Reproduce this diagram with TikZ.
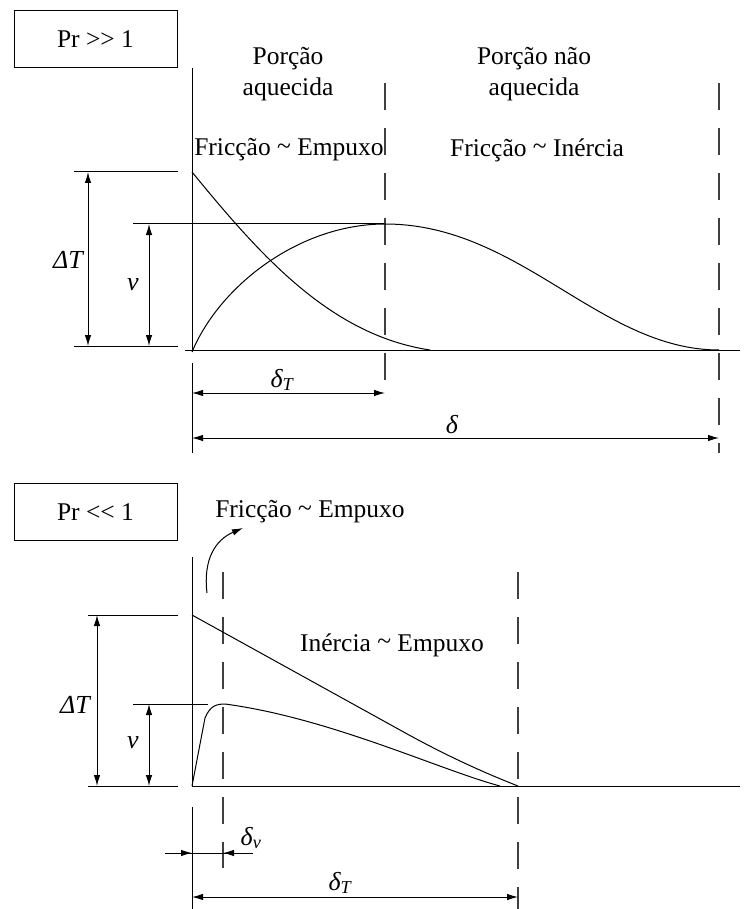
\documentclass[tikz,border=0pt]{standalone}
\usepackage{fontspec}
\setmainfont{Liberation Serif}
\usetikzlibrary{arrows.meta,positioning}
\tikzset{
  prbox/.style={draw,line width=1pt,minimum width=163pt,minimum height=57pt},
  lbl/.style={font=\fontsize{25.5}{31}\selectfont,align=center,inner sep=0pt},
  sym/.style={font=\fontsize{26}{30}\selectfont\itshape,inner sep=0pt},
  tip/.style={-{Latex[length=11pt,width=6.5pt]}},
  dimline/.style={{Latex[length=11pt,width=6.5pt]}-{Latex[length=11pt,width=6.5pt]}},
  dashline/.style={dash pattern=on 27pt off 18pt,line width=1.1pt,draw=black!75}
}
\newcommand{\tl}{\raisebox{0.1ex}{\textasciitilde}}

\begin{document}
\begin{tikzpicture}[x=1pt,y=-1pt,line width=1pt]
  \useasboundingbox (0,0) rectangle (744,909);

  % Pr >> 1
  \node[prbox,lbl] (prhigh) at (95.5,39.5) {Pr >{}> 1};
  \node[lbl] (heated) at (288,74) {Porção\\aquecida};
  \node[lbl] (unheated) at (534,74) {Porção não\\aquecida};
  \node[lbl] (fricA) at (289,150) {Fricção \tl{} Empuxo};
  \node[lbl] (fricB) at (537,150) {Fricção \tl{} Inércia};

  \coordinate (axA) at (192,68);   \coordinate (axB) at (192,352);
  \coordinate (axC) at (192,363);  \coordinate (axD) at (192,453);
  \coordinate (baseL) at (185,350); \coordinate (baseR) at (740,350);
  \draw (axA) -- (axB);
  \draw (axC) -- (axD);
  \draw (baseL) -- (baseR);

  \coordinate (dTa) at (74,172);  \coordinate (dTb) at (178,172);
  \coordinate (dTc) at (74,346);  \coordinate (dTd) at (178,346);
  \draw (dTa) -- (dTb);
  \draw (dTc) -- (dTd);
  \draw[dimline] (88,172) -- (88,346);
  \node[sym] (dTlbl) at (68,260) {ΔT};

  \coordinate (va) at (133,224);  \coordinate (vpk) at (385,224);
  \draw (va) -- (vpk);
  \draw[dimline] (149,224) -- (149,346);
  \node[sym] (vlbl) at (133,285) {v};

  \draw[dashline] (385,83) -- (385,382);
  \draw[dashline] (719,83) -- (719,453);

  % temperature and velocity profiles
  \draw (192,172) .. controls (260,255) and (330,335) .. (430,350);
  \draw (192,352) .. controls (220,285) and (300,224) .. (vpk);
  \draw (vpk) .. controls (520,224) and (600,350) .. (719,350);

  \draw[dimline] (192,393) -- (385,393);
  \node[sym] (dTh) at (282,380) {δ\textsubscript{T}};
  \draw[dimline] (192,438) -- (719,438);
  \node[sym] (dlt) at (452,425) {δ};

  % Pr << 1
  \node[prbox,lbl] (prlow) at (95.5,512) {Pr <{}< 1};
  \node[lbl] (fricC) at (310,512) {Fricção \tl{} Empuxo};
  \node[lbl] (inerc) at (392,645) {Inércia \tl{} Empuxo};
  \coordinate (bend) at (207,593);
  \draw[tip] (bend) .. controls (203,560) and (215,540) .. (243,528);

  \coordinate (axE) at (192,557);  \coordinate (axF) at (192,786);
  \coordinate (axG) at (192,807);  \coordinate (axH) at (192,909);
  \draw (axE) -- (axF);
  \draw (axG) -- (axH);
  \draw (192,786) -- (740,786);

  \draw[dashline] (223,572) -- (223,868);
  \draw[dashline] (518,572) -- (518,909);

  \draw (88,615) -- (178,615);
  \draw (88,786) -- (178,786);
  \draw[dimline] (97,615) -- (97,786);
  \node[sym] (dTlblB) at (75,705) {ΔT};

  \draw (133,704) -- (208,704);
  \draw[dimline] (149,704) -- (149,786);
  \node[sym] (vlblB) at (133,743) {v};

  % profiles
  \draw (192,615) -- (400,730) .. controls (450,758) and (490,775) .. (518,786);
  \draw (192,786) -- (205,718) .. controls (210,706) and (216,704) .. (225,704)
    .. controls (330,718) and (440,770) .. (500,786);

  \coordinate (dvL) at (165,853);  \coordinate (dvR) at (253,853);
  \draw (dvL) -- (dvR);
  \draw[tip] (dvL) -- (192,853);
  \draw[tip] (dvR) -- (223,853);
  \node[sym] (dvlbl) at (251,838) {δ\textsubscript{v}};

  \draw[dimline] (192,897) -- (518,897);
  \node[sym] (dTlow) at (340,883) {δ\textsubscript{T}};
\end{tikzpicture}
\end{document}
